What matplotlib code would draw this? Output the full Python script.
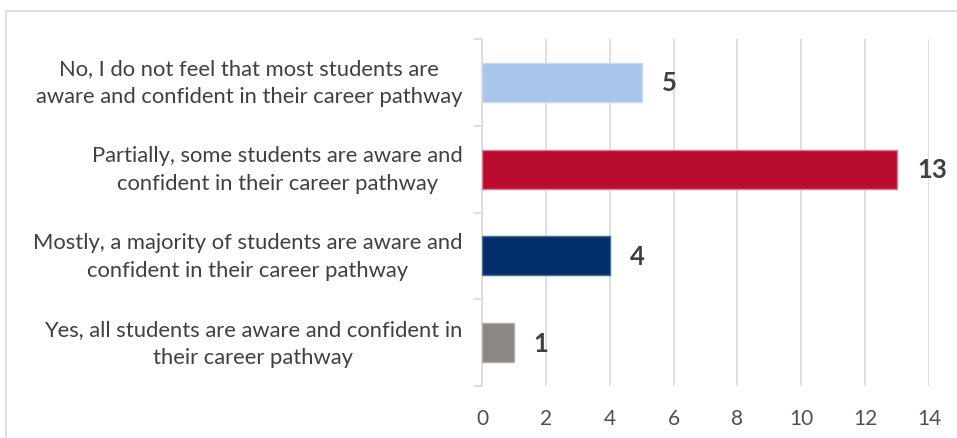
import matplotlib
matplotlib.use("Agg")
import matplotlib.pyplot as plt
from matplotlib.patches import Rectangle
import numpy as np

categories = [
    "No, I do not feel that most students are\naware and confident in their career pathway",
    "Partially, some students are aware and\nconfident in their career pathway",
    "Mostly, a majority of students are aware and\nconfident in their career pathway",
    "Yes, all students are aware and confident in\ntheir career pathway",
]
values = [5, 13, 4, 1]
colors = ["#A9C6EA", "#BA0C2F", "#002F6C", "#8B8782"]
edge_colors = ["#C6D9F1", "#E07A8C", "#4A6A98", "#B0ADA9"]
x_ticks = [0, 2, 4, 6, 8, 10, 12, 14]

plt.rcParams["font.family"] = ["Lato", "DejaVu Sans"]
text_color = "#404040"
grid_color = "#D9D9D9"

fig = plt.figure(figsize=(9.57, 4.39), dpi=100)
ax = fig.add_axes([482 / 957, 1 - 387 / 439, 447 / 957, 347 / 439])

# outer chart frame
fig.patches.append(Rectangle((5.5 / 957, -0.1), 1.2, 1 - 11.5 / 439 + 0.1,
                             transform=fig.transFigure, fill=False,
                             edgecolor=grid_color, linewidth=1.2))

y = np.arange(len(categories))
ax.barh(y, values, height=0.45, color=colors, edgecolor=edge_colors,
        linewidth=1, zorder=3)

for yi, v in zip(y, values):
    ax.text(v + 0.62, yi, str(v), va="center", ha="left", fontsize=18.5,
            fontweight="bold", color=text_color, zorder=4)

ax.set_xlim(0, 14)
ax.set_ylim(len(categories) - 0.5, -0.5)
ax.set_xticks(x_ticks)
ax.set_xticklabels([str(t) for t in x_ticks], fontsize=15, color="#505050")
ax.set_yticks(y)
ax.set_yticklabels(categories, fontsize=15.8, color=text_color,
                   multialignment="center", linespacing=1.5, va="center")
ax.set_yticks(np.arange(-0.5, len(categories)), minor=True)

ax.tick_params(axis="x", length=0, pad=16)
ax.tick_params(axis="y", which="major", length=0, pad=14)
ax.tick_params(axis="y", which="minor", length=6, color=grid_color, width=1.2)

ax.grid(axis="x", color=grid_color, linewidth=1.2, zorder=0)
for side in ["top", "right", "bottom"]:
    ax.spines[side].set_visible(False)
ax.spines["left"].set_color(grid_color)
ax.spines["left"].set_linewidth(1.2)

fig.savefig("out.png", dpi=100)
